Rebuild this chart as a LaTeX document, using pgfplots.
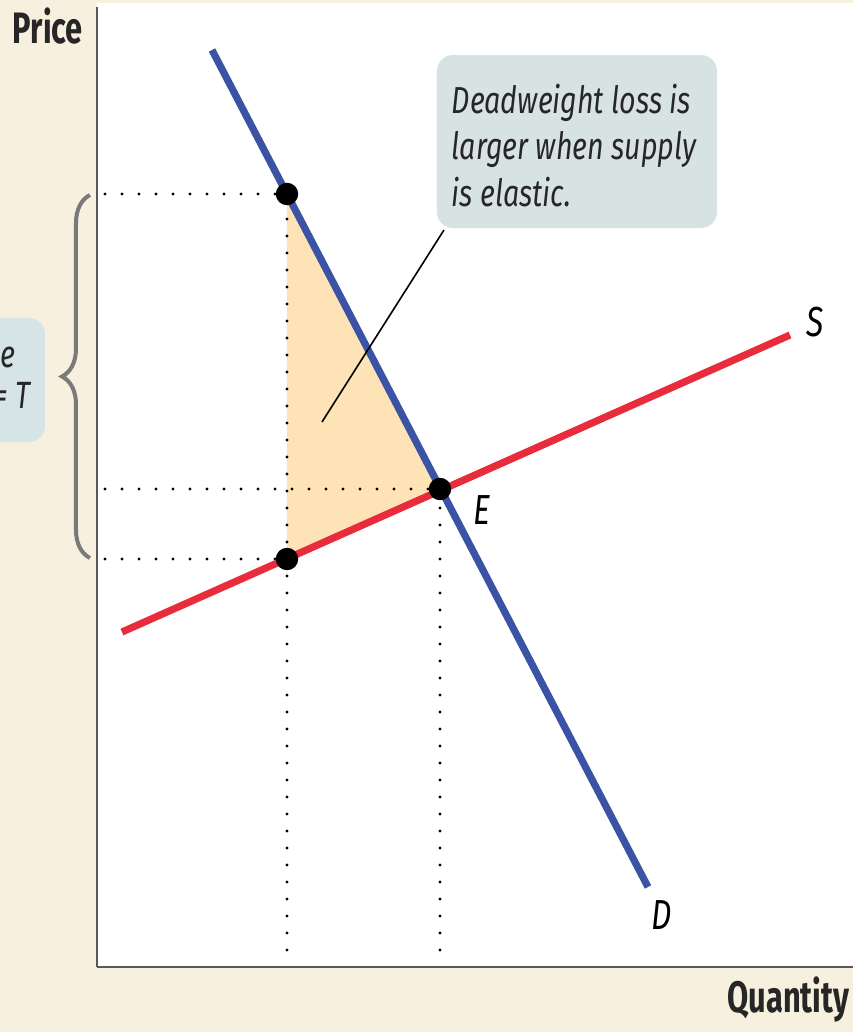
\documentclass[border=0pt]{standalone}
\usepackage{pgfplots}
\pgfplotsset{compat=1.18}
\usepackage{fontspec}
\setmainfont{Fira Sans}
\newfontfamily\condfont{Fira Sans}[FakeStretch=0.76]
\newfontfamily\boldcond{Fira Sans}[FakeStretch=0.70]
\usetikzlibrary{decorations.pathreplacing}
\definecolor{bgbeige}{HTML}{F7F0DE}
\definecolor{boxfill}{HTML}{D7E3E3}
\definecolor{leftbox}{HTML}{D6E4E8}
\definecolor{demandblue}{HTML}{3A53A4}
\definecolor{supplyred}{HTML}{E82C3C}
\definecolor{dwl}{HTML}{FDE3B6}
\definecolor{bracegrey}{HTML}{7A7A7A}
\begin{document}
\begin{tikzpicture}
\useasboundingbox (-24.25pt,-16.25pt) rectangle (189pt,241.75pt);
\fill[bgbeige] (-24.25pt,-16.25pt) rectangle (189pt,241.75pt);
\fill[white] (0pt,0pt) rectangle (189pt,241pt);
\clip (-24.25pt,-16.25pt) rectangle (189pt,241.75pt);
\begin{axis}[
  scale only axis,
  width=189pt, height=240pt,
  xmin=0, xmax=756, ymin=0, ymax=960,
  axis x line=bottom, axis y line=left,
  axis line style={-, draw=black!65, line width=0.6pt},
  xtick=\empty, ytick=\empty,
  clip=false,
]
% deadweight loss triangle
\addplot[fill=dwl, draw=none] coordinates {(190,773) (190,408) (343,478) (190,773)};
% dotted guide lines
\addplot[black, line width=0.8pt, line cap=round, dash pattern=on 0pt off 4.25pt] coordinates {(8,773) (190,773)};
\addplot[black, line width=0.8pt, line cap=round, dash pattern=on 0pt off 4.25pt] coordinates {(8,478) (343,478)};
\addplot[black, line width=0.8pt, line cap=round, dash pattern=on 0pt off 4.25pt] coordinates {(8,408) (190,408)};
\addplot[black, line width=0.8pt, line cap=round, dash pattern=on 0pt off 4.25pt] coordinates {(190,17) (190,773)};
\addplot[black, line width=0.8pt, line cap=round, dash pattern=on 0pt off 4.25pt] coordinates {(343,17) (343,478)};
% supply and demand
\addplot[supplyred, line width=1.8pt] coordinates {(25,335) (693,632)};
\addplot[demandblue, line width=1.8pt] coordinates {(115,917) (551,80)};
% points
\addplot[only marks, mark=*, mark size=2.6pt, black] coordinates {(190,773) (343,478) (190,408)};
% leader line
\draw[black, line width=0.4pt] (axis cs:347,737) -- (axis cs:225,545);
% callout box
\fill[boxfill, rounded corners=4pt] (axis cs:340,739) rectangle (axis cs:620,912);
\node[anchor=north west, inner sep=0pt, align=left, font=\condfont\itshape\fontsize{9.4}{11.7}\selectfont, text=black!85] at (axis cs:354,884)
  {Deadweight loss is\\larger when supply\\is elastic.};
% curve labels
\node[font=\condfont\itshape\fontsize{10.5}{12}\selectfont] at (axis cs:718,645) {S};
\node[font=\condfont\itshape\fontsize{10.5}{12}\selectfont] at (axis cs:385,457) {E};
\node[font=\condfont\itshape\fontsize{10.5}{12}\selectfont] at (axis cs:565,52) {D};
% axis titles
\node[anchor=base west, inner sep=0pt, font=\boldcond\bfseries\fontsize{11}{12}\selectfont, text=black!85] at (axis cs:-85,924) {Price};
\node[anchor=base east, inner sep=0pt, font=\boldcond\bfseries\fontsize{11}{12}\selectfont, text=black!85] at (axis cs:753,-45) {Quantity};
% brace and tax box
\draw[bracegrey, line width=1pt, decorate, decoration={brace, amplitude=7pt}] (axis cs:-7,409) -- (axis cs:-7,772);
\fill[leftbox, rounded corners=4pt] (axis cs:-220,525) rectangle (axis cs:-52,649);
\node[anchor=base east, inner sep=0pt, font=\condfont\itshape\fontsize{9.5}{11}\selectfont, text=black!85] at (axis cs:-81,600) {Excise};
\node[anchor=base east, inner sep=0pt, font=\condfont\itshape\fontsize{9.5}{11}\selectfont, text=black!85] at (axis cs:-66,559) {tax = \textit{T}};
\end{axis}
\end{tikzpicture}
\end{document}
